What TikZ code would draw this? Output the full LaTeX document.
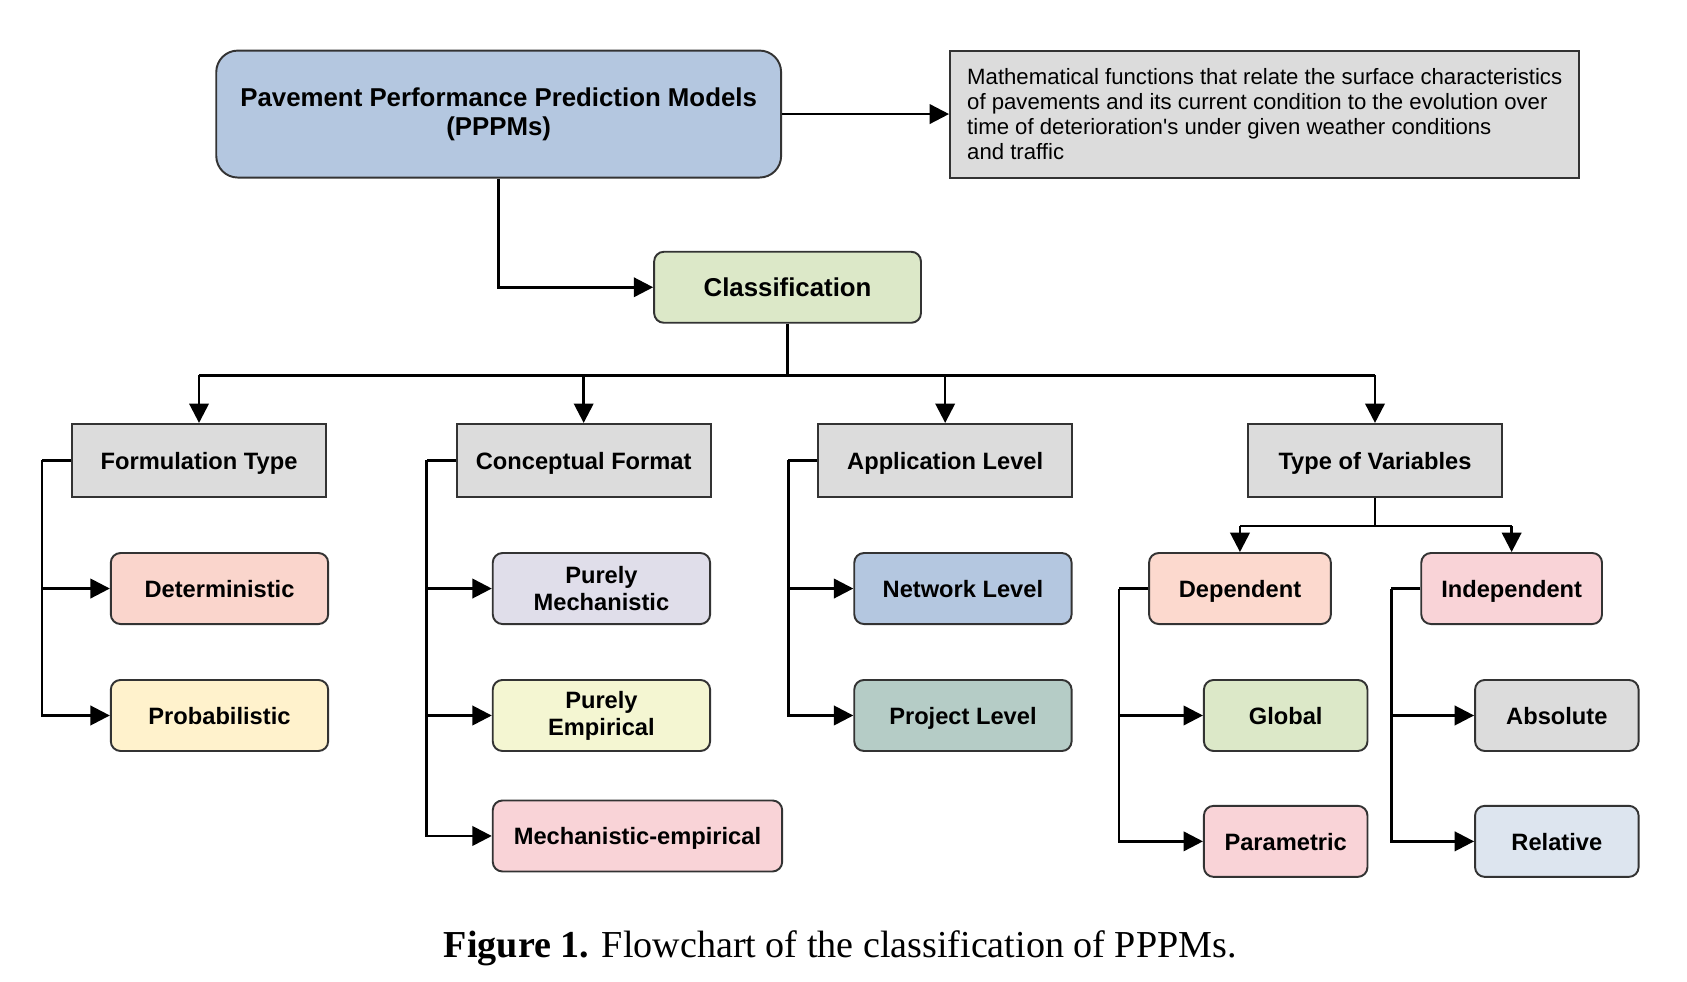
\documentclass[tikz,border=0pt]{standalone}
\usepackage{fontspec}
\setmainfont{Liberation Serif}
\newfontfamily\arialf{Liberation Sans}
\usetikzlibrary{arrows.meta}
\definecolor{bord}{HTML}{333333}
\definecolor{cBlue}{HTML}{B4C7E0}
\definecolor{cGray}{HTML}{DCDCDC}
\definecolor{cGreen}{HTML}{DCE8C8}
\definecolor{cSalmon}{HTML}{FAD5CC}
\definecolor{cYellow}{HTML}{FFF2CC}
\definecolor{cLav}{HTML}{E0DEEA}
\definecolor{cLime}{HTML}{F4F6D2}
\definecolor{cPink}{HTML}{F9D3D7}
\definecolor{cTeal}{HTML}{B5CCC6}
\definecolor{cPeach}{HTML}{FCD9CE}
\definecolor{cLBlue}{HTML}{DDE5EF}
\tikzset{
  base/.style={draw=bord, line width=0.9pt, align=center, inner sep=0pt, text=black,
    font=\arialf\bfseries\fontsize{11}{12.5}\selectfont},
  one/.style={text height=8.3pt, text depth=0pt},
  rbox/.style={base, rounded corners=4.5pt},
  catbox/.style={base, one, fill=cGray, minimum width=118pt, minimum height=34pt},
  leaf/.style={rbox, minimum height=33pt},
  conn/.style={line width=1.2pt, draw=black},
  arr/.style={conn, -{Triangle[length=9pt,width=9pt]}},
}
\begin{document}
\begin{tikzpicture}[x=0.5pt,y=-0.5pt]
\useasboundingbox (0,0) rectangle (1568,912);
% top
\node[rbox, rounded corners=10pt, fill=cBlue, minimum width=262.5pt, minimum height=59pt,
  font=\arialf\bfseries\fontsize{12}{13.5}\selectfont] (ppm) at (463.5,106)
  {\raisebox{-2pt}{Pavement Performance Prediction Models}\\\raisebox{-2pt}{(PPPMs)}};
\node[base, fill=cGray, minimum width=292.5pt, minimum height=59pt, align=left,
  font=\arialf\fontsize{10.3}{11.6}\selectfont] (desc) at (1175.5,106)
  {Mathematical functions that relate the surface characteristics\\of pavements and its current condition to the evolution over\\time of deterioration's under given weather conditions\\and traffic};
\node[rbox, one, fill=cGreen, minimum width=124pt, minimum height=33pt,
  font=\arialf\bfseries\fontsize{12}{13.5}\selectfont] (cls) at (732,267) {Classification};
% categories
\node[catbox] (ft) at (185,428) {Formulation Type};
\node[catbox] (cf) at (542.5,428) {Conceptual Format};
\node[catbox] (al) at (878.5,428) {Application Level};
\node[catbox] (tv) at (1278,428) {Type of Variables};
% leaves
\node[leaf, one, fill=cSalmon, minimum width=101pt] (det) at (204,547) {Deterministic};
\node[leaf, one, fill=cYellow, minimum width=101pt] (prob) at (204,665) {Probabilistic};
\node[leaf, fill=cLav, minimum width=101pt] (pm) at (559,547) {Purely\\Mechanistic};
\node[leaf, fill=cLime, minimum width=101pt] (pe) at (559,665) {Purely\\Empirical};
\node[leaf, one, fill=cPink, minimum width=134.5pt] (me) at (592.5,777) {Mechanistic-empirical};
\node[leaf, one, fill=cBlue, minimum width=101pt] (nl) at (895,547) {Network Level};
\node[leaf, one, fill=cTeal, minimum width=101pt] (pl) at (895,665) {Project Level};
\node[leaf, one, fill=cPeach, minimum width=84.5pt] (dep) at (1152.5,547) {Dependent};
\node[leaf, one, fill=cPink, minimum width=84pt] (ind) at (1405,547) {Independent};
\node[leaf, one, fill=cGreen, minimum width=76pt] (glo) at (1195,665) {Global};
\node[leaf, one, fill=cPink, minimum width=76pt] (par) at (1195,782) {Parametric};
\node[leaf, one, fill=cGray, minimum width=76pt] (abs) at (1447,665) {Absolute};
\node[leaf, one, fill=cLBlue, minimum width=76pt] (rel) at (1447,782) {Relative};
% connectors top
\draw[arr] (ppm.east) -- (desc.west);
\draw[arr] (ppm.south) |- (cls.west);
\draw[conn] (cls.south) -- ++(0,48) coordinate (bus);
\draw[conn] (ft.north |- bus) -- (tv.north |- bus);
\foreach \n in {ft,cf,al,tv} \draw[arr] (\n.north |- bus) -- (\n.north);
% formulation
\draw[conn] (ft.west) -- ++(-27,0) coordinate (ftl);
\draw[arr] (ftl) |- (det.west);
\draw[arr] (ftl) |- (prob.west);
% conceptual
\draw[conn] (cf.west) -- ++(-27,0) coordinate (cfl);
\draw[arr] (cfl) |- (pm.west);
\draw[arr] (cfl) |- (pe.west);
\draw[arr] (cfl) |- (me.west);
% application
\draw[conn] (al.west) -- ++(-27,0) coordinate (all);
\draw[arr] (all) |- (nl.west);
\draw[arr] (all) |- (pl.west);
% type of variables
\draw[conn] (tv.south) -- ++(0,26) coordinate (tvb);
\draw[conn] (dep.north |- tvb) -- (ind.north |- tvb);
\draw[arr] (dep.north |- tvb) -- (dep.north);
\draw[arr] (ind.north |- tvb) -- (ind.north);
\draw[conn] (dep.west) -- ++(-27,0) coordinate (depl);
\draw[arr] (depl) |- (glo.west);
\draw[arr] (depl) |- (par.west);
\draw[conn] (ind.west) -- ++(-27,0) coordinate (indl);
\draw[arr] (indl) |- (abs.west);
\draw[arr] (indl) |- (rel.west);
% caption
\node[inner sep=0pt, font=\fontsize{17.7}{20}\selectfont] (cap) at (781,881)
  {\textbf{Figure 1.} Flowchart of the classification of PPPMs.};
\end{tikzpicture}
\end{document}
